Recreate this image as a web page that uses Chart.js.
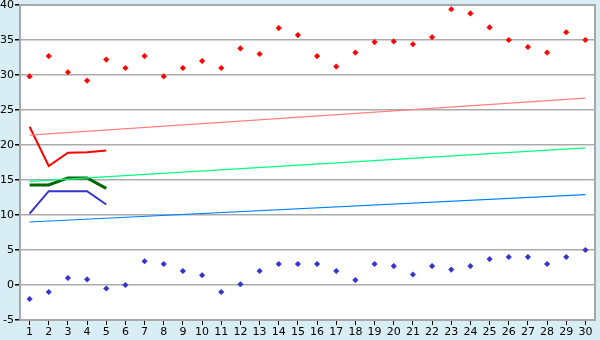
<!DOCTYPE html>
<html>
<head>
<meta charset="utf-8">
<script src="https://cdn.jsdelivr.net/npm/chart.js@4/dist/chart.umd.min.js"></script>
<style>
html,body{margin:0;padding:0;background:#D9EEF4;}
#wrap{width:600px;height:340px;}
</style>
</head>
<body>
<div id="wrap"><canvas id="c" width="600" height="340"></canvas></div>
<script>
const categories = ["1","2","3","4","5","6","7","8","9","10","11","12","13","14","15","16","17","18","19","20","21","22","23","24","25","26","27","28","29","30"];
const yTicks = [-5, 0, 5, 10, 15, 20, 25, 30, 35, 40];

const redPoints = [29.8, 32.7, 30.4, 29.2, 32.2, 31.0, 32.7, 29.8, 31.0, 32.0,
                   31.0, 33.8, 33.0, 36.7, 35.7, 32.7, 31.2, 33.2, 34.7, 34.8,
                   34.4, 35.4, 39.4, 38.8, 36.8, 35.0, 34.0, 33.2, 36.1, 35.0];
const bluePoints = [-2.0, -1.0, 1.0, 0.8, -0.5, 0.0, 3.4, 3.0, 2.0, 1.4,
                    -1.0, 0.1, 2.0, 3.0, 3.0, 3.0, 2.0, 0.7, 3.0, 2.7,
                    1.5, 2.7, 2.2, 2.7, 3.7, 4.0, 4.0, 3.0, 4.0, 5.0];

// trend lines: start and end values (category 1 and 30)
const redTrend = [21.4, 26.7];
const greenTrend = [14.8, 19.6];
const blueTrend = [9.0, 12.9];

// short lines over categories 1..5
const redShort = [22.6, 17.0, 18.9, 18.95, 19.2];
const greenShort = [14.3, 14.3, 15.3, 15.3, 13.8];
const blueShort = [10.2, 13.4, 13.4, 13.4, 11.5];

function endpoints(pair) {
  const arr = categories.map(() => null);
  arr[0] = pair[0];
  arr[categories.length - 1] = pair[1];
  return arr;
}

const frame = {
  id: 'frame',
  beforeDraw(chart) {
    const {ctx, chartArea: a} = chart;
    ctx.save();
    ctx.fillStyle = '#D9EEF4';
    ctx.fillRect(0, 0, chart.width, chart.height);
    ctx.fillStyle = '#FFFFFF';
    ctx.fillRect(a.left, a.top, a.right - a.left, a.bottom - a.top);
    ctx.restore();
  },
  afterDatasetsDraw(chart) {
    const {ctx, chartArea: a} = chart;
    ctx.save();
    ctx.strokeStyle = '#A8A8A8';
    ctx.lineWidth = 2;
    ctx.strokeRect(a.left, a.top, a.right - a.left, a.bottom - a.top);
    ctx.restore();
  }
};

const lineDs = (data, color, width) => ({
  data, borderColor: color, backgroundColor: color, borderWidth: width,
  pointRadius: 0, fill: false, tension: 0, spanGaps: true
});
const pointDs = (data, color) => ({
  data, showLine: false, borderColor: color, backgroundColor: color,
  pointStyle: 'rectRot', pointRadius: 2.8, pointBorderWidth: 0.5
});

new Chart(document.getElementById('c'), {
  type: 'line',
  data: {
    labels: categories,
    datasets: [
      lineDs(endpoints(redTrend), '#FF8080', 1.2),
      lineDs(endpoints(greenTrend), '#00FF80', 1.2),
      lineDs(endpoints(blueTrend), '#0080FF', 1.2),
      lineDs(redShort, '#FF0000', 2),
      lineDs(greenShort, '#006600', 3),
      lineDs(blueShort, '#3333CC', 2),
      pointDs(redPoints, '#FF0000'),
      pointDs(bluePoints, '#3333CC')
    ]
  },
  options: {
    responsive: false,
    animation: false,
    events: [],
    layout: {padding: {top: 5, right: 5, left: 0, bottom: 0}},
    plugins: {legend: {display: false}, tooltip: {enabled: false}},
    scales: {
      x: {
        offset: true,
        grid: {offset: false, drawOnChartArea: false, drawTicks: true, tickLength: 5, tickColor: '#000000'},
        border: {display: true, color: '#A8A8A8', width: 2},
        ticks: {color: '#000000', font: {family: 'DejaVu Sans', size: 11}, padding: 1, maxRotation: 0, autoSkip: false},
        afterFit(s) { s.height = 20; s.paddingLeft = 0; s.paddingRight = 0; }
      },
      y: {
        min: yTicks[0], max: yTicks[yTicks.length - 1],
        afterBuildTicks(s) { s.ticks = yTicks.map(v => ({value: v})); },
        grid: {color: '#ABABAB', lineWidth: 1.5, drawTicks: true, tickLength: 5, tickColor: '#000000'},
        border: {display: true, color: '#A8A8A8', width: 2},
        ticks: {color: '#000000', font: {family: 'DejaVu Sans', size: 11}, padding: 1},
        afterFit(s) { s.width = 20; s.paddingTop = 0; s.paddingBottom = 0; }
      }
    }
  },
  plugins: [frame]
});
</script>
</body>
</html>
